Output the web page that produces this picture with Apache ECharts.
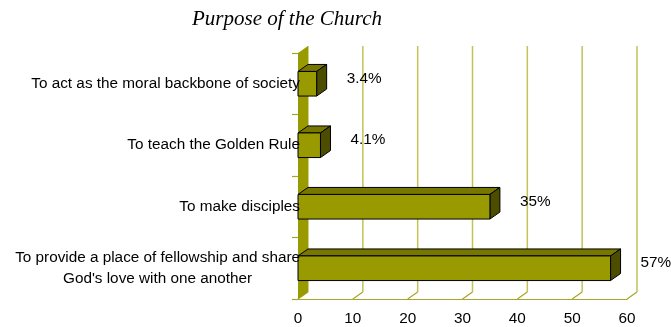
<!DOCTYPE html>
<html>
<head>
<meta charset="utf-8">
<script src="https://cdn.jsdelivr.net/npm/echarts@6/dist/echarts.min.js"></script>
<style>html,body{margin:0;padding:0;background:#fff}#c{width:671px;height:327px}</style>
</head>
<body>
<div id="c"></div>
<script>
var titleText = 'Purpose of the Church';
var categories = [
  'To act as the moral backbone of society',
  'To teach the Golden Rule',
  'To make disciples',
  'To provide a place of fellowship and share\nGod\'s love with one another'
];
var values = [3.4, 4.1, 35, 57];
var valueLabels = ['3.4%', '4.1%', '35%', '57%'];
var xTicks = [0, 10, 20, 30, 40, 50, 60];

var DX = 10, DY = 7;
var OLIVE = '#999900', TOP = '#777700', SIDE = '#4d4d00', GRID = '#c2c255';
var FONT = '"Liberation Sans", Arial, sans-serif';
var FS = 15.3;

var chart = echarts.init(document.getElementById('c'), null, {renderer: 'canvas'});

function gridRender(params, api) {
  var cs = params.coordSys;
  var v = api.value(0);
  var p = api.coord([v, 0]);
  var x = p[0];
  var top = cs.y, bot = cs.y + cs.height;
  return {
    type: 'group',
    children: [
      {type: 'line', shape: {x1: x + DX, y1: top - DY, x2: x + DX, y2: bot - DY}, style: {stroke: GRID, lineWidth: 1.5}},
      {type: 'line', shape: {x1: x, y1: bot, x2: x + DX, y2: bot - DY}, style: {stroke: '#a6a628', lineWidth: 1.2}}
    ]
  };
}

function wallRender(params, api) {
  var cs = params.coordSys;
  var x = api.coord([0, 0])[0];
  var top = cs.y, bot = cs.y + cs.height;
  return {
    type: 'polygon',
    shape: {points: [[x, top], [x + DX, top - DY], [x + DX, bot - DY], [x, bot]]},
    style: {fill: OLIVE, stroke: null}
  };
}

function barRender(params, api) {
  var idx = api.value(0);
  var val = api.value(1);
  var s = api.coord([0, idx]);
  var e = api.coord([val, idx]);
  var bh = api.size([0, 1])[1] * 0.4;
  var x0 = s[0], x1 = e[0], yc = s[1];
  var yt = yc - bh / 2, yb = yc + bh / 2;
  var ls = {stroke: '#000', lineWidth: 1, lineJoin: 'round'};
  return {
    type: 'group',
    children: [
      {type: 'polygon', shape: {points: [[x0, yt], [x1, yt], [x1 + DX, yt - DY], [x0 + DX, yt - DY]]}, style: Object.assign({fill: TOP}, ls)},
      {type: 'polygon', shape: {points: [[x1, yt], [x1 + DX, yt - DY], [x1 + DX, yb - DY], [x1, yb]]}, style: Object.assign({fill: SIDE}, ls)},
      {type: 'rect', shape: {x: x0, y: yt, width: x1 - x0, height: bh}, style: Object.assign({fill: OLIVE}, ls)},
      {type: 'text', x: x1 + DX + 20, y: yc - 5,
        style: {text: valueLabels[idx], fill: '#000', font: FS + 'px ' + FONT, textAlign: 'left', textVerticalAlign: 'middle'}}
    ]
  };
}

var option = {
  animation: false,
  graphic: [{
    type: 'text', x: 287, y: 19,
    style: {text: titleText, fill: '#000', font: 'italic 21px "Liberation Serif", "Times New Roman", serif', textAlign: 'center', textVerticalAlign: 'middle'}
  }],
  grid: {left: 298, top: 53, width: 329, height: 246, containLabel: false},
  xAxis: {
    type: 'value', min: 0, max: 60, interval: 10,
    axisLine: {show: true, lineStyle: {color: '#a6a628', width: 1.2}},
    axisTick: {show: false},
    splitLine: {show: false},
    axisLabel: {color: '#000', fontSize: FS, fontFamily: FONT, margin: 12}
  },
  yAxis: {
    type: 'category', inverse: true, data: categories,
    axisLine: {show: false},
    axisTick: {show: true, length: 6, lineStyle: {color: '#a6a628', width: 1.2}},
    axisLabel: {
      color: '#000', fontSize: FS, fontFamily: FONT, margin: -2,
      formatter: function (v) {
        return v.split('\n').map(function (l) { return '{c|' + l + '}'; }).join('\n');
      },
      rich: {c: {align: 'center', fontSize: FS, lineHeight: 21, fontFamily: FONT, color: '#000'}}
    },
    z: 10
  },
  series: [
    {type: 'custom', renderItem: gridRender, data: xTicks.map(function (t) { return [t]; }), z: 1, silent: true},
    {type: 'custom', renderItem: wallRender, data: [[0]], z: 2, silent: true},
    {type: 'custom', renderItem: barRender, data: values.map(function (v, i) { return [i, v]; }), encode: {x: 1, y: 0}, z: 3, silent: true}
  ]
};
chart.setOption(option);
</script>
</body>
</html>
